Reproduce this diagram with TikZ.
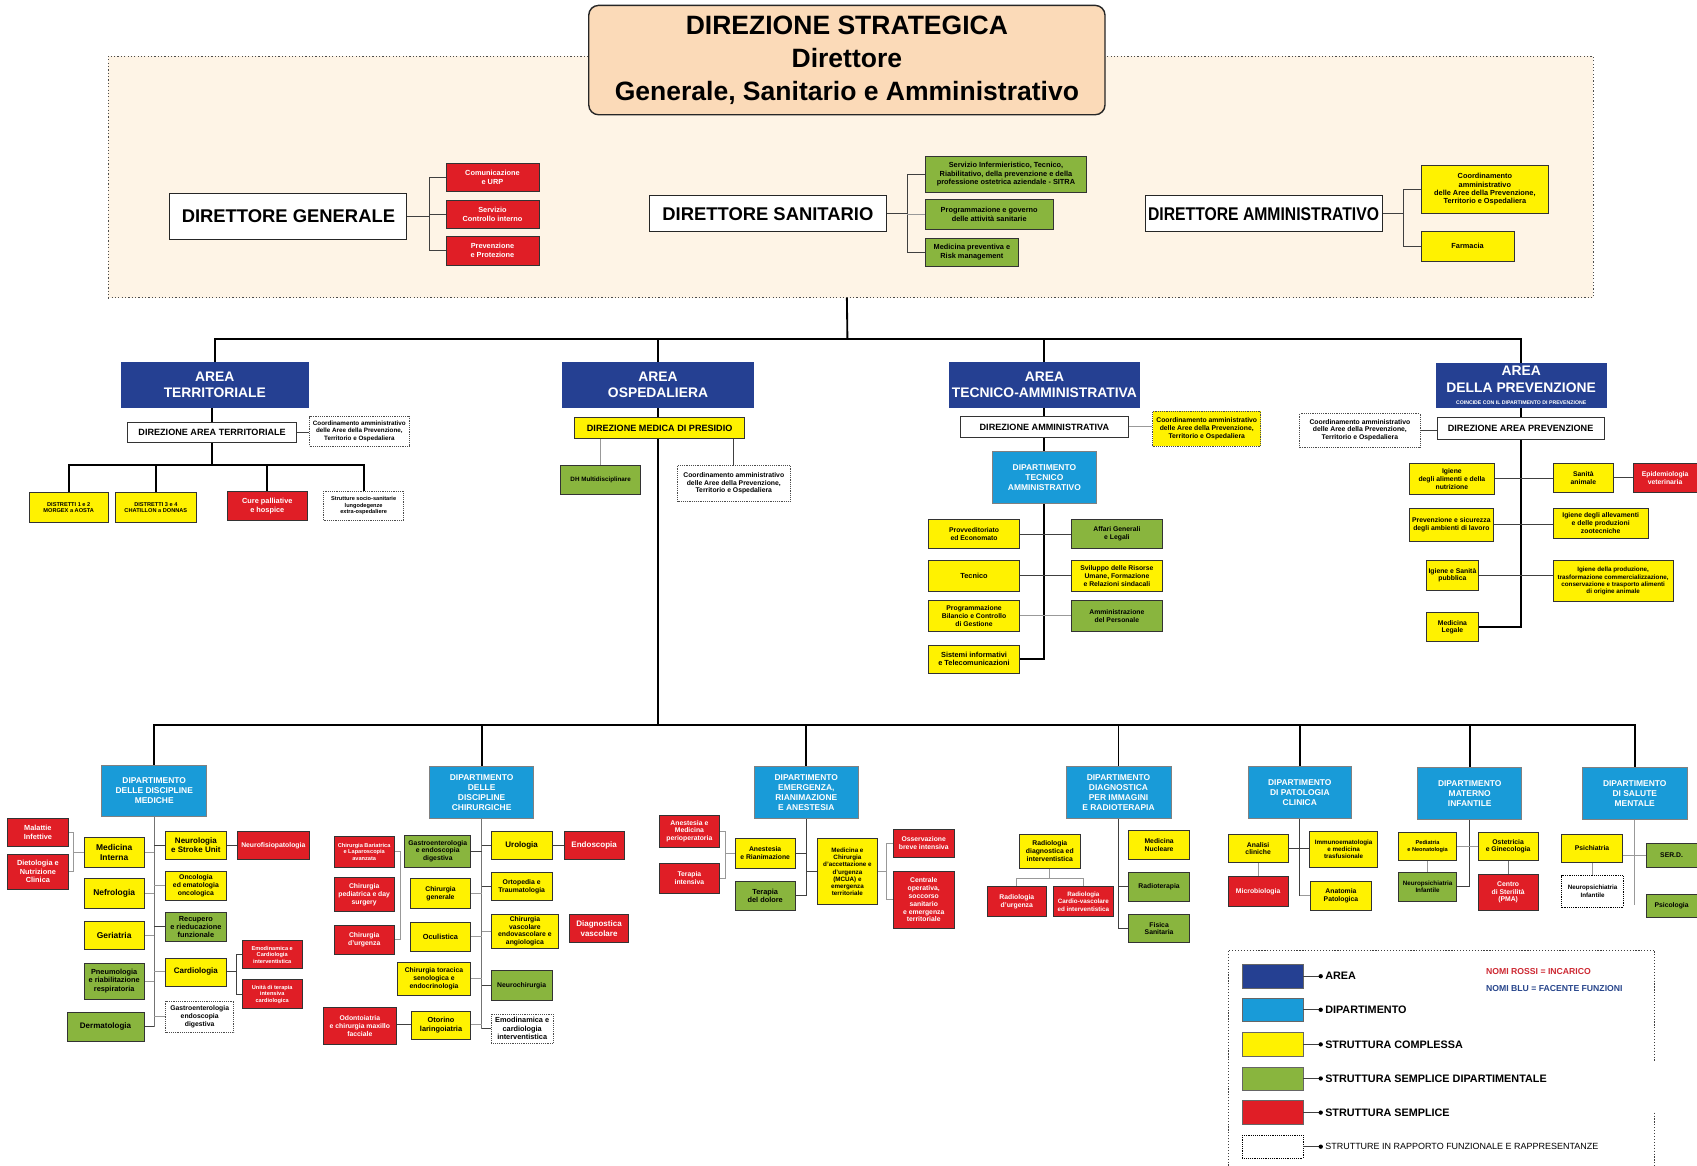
\documentclass[tikz,border=0pt]{standalone}
\usepackage{fontspec}
\usepackage{graphicx}
\setmainfont{Liberation Sans}
\usetikzlibrary{calc}
\definecolor{areab}{RGB}{37,64,146}
\definecolor{depb}{RGB}{25,155,216}
\definecolor{yel}{RGB}{255,242,0}
\definecolor{grn}{RGB}{137,181,62}
\definecolor{rd}{RGB}{224,30,38}
\definecolor{peach}{RGB}{251,218,184}
\definecolor{zonec}{RGB}{254,244,230}
\definecolor{lgred}{RGB}{205,40,50}
\definecolor{lgblue}{RGB}{40,70,140}
\pgfdeclarelayer{bg}\pgfdeclarelayer{lines}\pgfsetlayers{bg,lines,main}
\newcommand\B[7]{\node[#1, minimum width={(#5)-(#3)}, minimum height={(#6)-(#4)}] (#2) at ({((#3)+(#5))/2},{((#4)+(#6))/2}) {#7};}
\tikzset{
 bx/.style={draw=black!80, line width=0.6pt, inner sep=0.5pt, align=center},
 yb/.style={bx, fill=yel},
 gb/.style={bx, fill=grn},
 rb/.style={bx, fill=rd, text=white},
 wb/.style={bx, fill=white},
 dbx/.style={bx, fill=white, draw=black!70, line width=0.7pt, densely dotted},
 ydb/.style={bx, fill=yel, draw=black!70, line width=0.7pt, densely dotted},
 ab/.style={bx, fill=areab, draw=areab, text=white},
 pb/.style={bx, fill=depb, draw=black!50, text=white},
 sw/.style={draw=black!60, line width=0.6pt},
 dir/.style={bx, fill=white, draw=black!85, line width=1pt, font=\fontsize{17}{20}\selectfont\bfseries},
 stg/.style={fill=peach, draw=black!85, line width=1.3pt, rounded corners=9pt, align=center, font=\fontsize{24.5}{30.5}\selectfont\bfseries},
 zone/.style={fill=zonec, draw=black!70, line width=1.1pt, dash pattern=on 1.1pt off 2pt},
 fsA/.style={font=\fontsize{5.2}{6}\selectfont\bfseries},
 fsB/.style={font=\fontsize{5.8}{6.7}\selectfont\bfseries},
 fsC/.style={font=\fontsize{6.3}{7.2}\selectfont\bfseries},
 fsD/.style={font=\fontsize{6.8}{7.8}\selectfont\bfseries},
 fsE/.style={font=\fontsize{7.4}{8.5}\selectfont\bfseries},
 fsF/.style={font=\fontsize{7.8}{8.9}\selectfont\bfseries},
 fsDep/.style={font=\fontsize{7.8}{9.3}\selectfont\bfseries},
 fsDir/.style={font=\fontsize{8.4}{10}\selectfont\bfseries},
 fsArea/.style={font=\fontsize{12.8}{15.5}\selectfont\bfseries},
 tr/.style={line width=1.7pt, black},
 sb/.style={line width=0.9pt, black!75},
 lg/.style={line width=0.9pt, black!40},
 md/.style={line width=1.2pt, black!55},
 legf/.style={line width=1.1pt, black!75, dash pattern=on 1.1pt off 1.6pt},
 lgt/.style={anchor=west, inner sep=0pt, xshift=4pt, font=\fontsize{10}{12}\selectfont\bfseries},
}
\begin{document}
\begin{tikzpicture}[x=1pt,y=-1pt]
\useasboundingbox (0,0) rectangle (1568,1077);
\begin{pgfonlayer}{bg}
\fill[white] (0,0) rectangle (1568,1077);
\B{zone}{zn}{100}{52}{1472}{275}{}
\end{pgfonlayer}

% ---------- top ----------
\B{stg}{dsg}{544}{5}{1021}{106}{DIREZIONE STRATEGICA\\Direttore\\Generale, Sanitario e Amministrativo}
\B{dir}{dg}{157}{179}{376}{221}{DIRETTORE GENERALE}
\B{dir}{dsn}{600}{181}{819}{214}{DIRETTORE SANITARIO}
\B{dir}{dam0}{1058}{181}{1277}{214}{\scalebox{0.855}[1]{DIRETTORE AMMINISTRATIVO}}
\B{rb,fsD}{cu}{412}{151}{498}{177}{Comunicazione\\e URP}
\B{rb,fsD}{sci}{412}{185}{498}{211}{Servizio\\Controllo interno}
\B{rb,fsD}{pp}{412}{218}{498}{245}{Prevenzione\\e Protezione}
\B{gb,fsD}{sitra}{855}{144}{1004}{178}{Servizio Infermieristico, Tecnico,\\Riabilitativo, della prevenzione e della\\professione ostetrica aziendale - SITRA}
\B{gb,fsD}{pga}{855}{184}{973}{212}{Programmazione e governo\\delle attività sanitarie}
\B{gb,fsD}{mpr}{855}{220}{941}{246}{Medicina preventiva e\\Risk management}
\B{yb,fsD}{cda}{1313}{153}{1431}{197}{Coordinamento\\amministrativo\\delle Aree della Prevenzione,\\Territorio e Ospedaliera}
\B{yb,fsD}{far}{1313}{214}{1399}{241}{Farmacia}

% ---------- areas ----------
\B{ab,fsArea}{at}{112}{335}{285}{376}{AREA\\TERRITORIALE}
\B{ab,fsArea}{ao}{520}{335}{696}{376}{AREA\\OSPEDALIERA}
\B{ab,fsArea}{ata}{877}{335}{1053}{376}{AREA\\TECNICO-AMMINISTRATIVA}
\B{ab,fsArea}{ap}{1327}{336}{1484}{376}{AREA\\DELLA PREVENZIONE\\[-4pt]{\fontsize{4.8}{5.5}\selectfont COINCIDE CON IL DIPARTIMENTO DI PREVENZIONE}}

% territoriale
\B{wb,fsDir}{dat}{118}{390}{274}{409}{DIREZIONE AREA TERRITORIALE}
\B{dbx,fsB}{cot}{286}{385}{378}{412}{Coordinamento amministrativo\\delle Aree della Prevenzione,\\Territorio e Ospedaliera}
\B{yb,fsA}{d1}{27}{455}{100}{483}{DISTRETTI 1 e 2\\MORGEX a AOSTA}
\B{yb,fsA}{d2}{107}{455}{181}{483}{DISTRETTI 3 e 4\\CHATILLON a DONNAS}
\B{rb,fsD}{cpa}{210}{454}{284}{481}{Cure palliative\\e hospice}
\B{dbx,fsA}{sso}{299}{454}{373}{481}{Strutture socio-sanitarie\\lungodegenze\\extra-ospedaliere}

% ospedaliera
\B{yb,fsDir}{dmp}{531}{386}{688}{405}{DIREZIONE MEDICA DI PRESIDIO}
\B{gb,fsB}{dh}{518}{430}{592}{457}{DH Multidisciplinare}
\B{dbx,fsC}{coo}{626}{430}{730}{463}{Coordinamento amministrativo\\delle Aree della Prevenzione,\\Territorio e Ospedaliera}

% tecnico-amministrativa
\B{wb,fsDir}{dam}{887}{385}{1043}{404}{DIREZIONE AMMINISTRATIVA}
\B{ydb,fsC}{cta}{1065}{380}{1165}{412}{Coordinamento amministrativo\\delle Aree della Prevenzione,\\Territorio e Ospedaliera}
\B{pb,fsDep}{dta}{917}{417}{1013}{465}{DIPARTIMENTO\\TECNICO\\AMMINISTRATIVO}
\B{yb,fsC}{pec}{858}{480}{942}{507}{Provveditoriato\\ed Economato}
\B{gb,fsC}{agl}{990}{480}{1074}{507}{Affari Generali\\e Legali}
\B{yb,fsD}{tec}{858}{518}{942}{546}{Tecnico}
\B{yb,fsC}{svr}{990}{518}{1074}{546}{Sviluppo delle Risorse\\Umane, Formazione\\e Relazioni sindacali}
\B{yb,fsC}{pbc}{858}{555}{942}{583}{Programmazione\\Bilancio e Controllo\\di Gestione}
\B{gb,fsC}{adp}{990}{555}{1074}{583}{Amministrazione\\del Personale}
\B{yb,fsD}{sit}{858}{596}{942}{622}{Sistemi informativi\\e Telecomunicazioni}

% prevenzione
\B{wb,fsDir}{dap}{1328}{386}{1482}{406}{DIREZIONE AREA PREVENZIONE}
\B{dbx,fsC}{cop}{1201}{382}{1312}{413}{Coordinamento amministrativo\\delle Aree della Prevenzione,\\Territorio e Ospedaliera}
\B{yb,fsC}{iga}{1302}{428}{1381}{457}{Igiene\\degli alimenti e della\\nutrizione}
\B{yb,fsC}{san}{1435}{428}{1491}{455}{Sanità\\animale}
\B{rb,fsC}{epv}{1509}{428}{1568}{455}{Epidemiologia\\veterinaria}
\B{yb,fsC}{psa}{1302}{470}{1380}{500}{Prevenzione e sicurezza\\degli ambienti di lavoro}
\B{yb,fsC}{iall}{1435}{470}{1523}{497}{Igiene degli allevamenti\\e delle produzioni\\zootecniche}
\B{yb,fsC}{isp}{1318}{518}{1366}{545}{Igiene e Sanità\\pubblica}
\B{yb,fsB}{ipr}{1435}{518}{1546}{556}{Igiene della produzione,\\trasformazione commercializzazione,\\conservazione e trasporto alimenti\\di origine animale}
\B{yb,fsC}{mle}{1318}{566}{1366}{593}{Medicina\\Legale}

% ---------- departments ----------
\B{pb,fsDep}{dmed}{94}{707}{191}{754}{DIPARTIMENTO\\DELLE DISCIPLINE\\MEDICHE}
\B{pb,fsDep}{dch}{397}{708}{493}{756}{DIPARTIMENTO\\DELLE\\DISCIPLINE\\CHIRURGICHE}
\B{pb,fsDep}{dem}{697}{708}{793}{756}{DIPARTIMENTO\\EMERGENZA,\\RIANIMAZIONE\\E ANESTESIA}
\B{pb,fsDep}{ddi}{985}{708}{1082}{756}{DIPARTIMENTO\\DIAGNOSTICA\\PER IMMAGINI\\E RADIOTERAPIA}
\B{pb,fsDep}{dpa}{1153}{708}{1249}{756}{DIPARTIMENTO\\DI PATOLOGIA\\CLINICA}
\B{pb,fsDep}{dmi}{1310}{709}{1406}{757}{DIPARTIMENTO\\MATERNO\\INFANTILE}
\B{pb,fsDep}{dsm}{1462}{709}{1559}{757}{DIPARTIMENTO\\DI SALUTE\\MENTALE}

% mediche
\B{rb,fsD}{mal}{7}{756}{63}{782}{Malattie\\Infettive}
\B{rb,fsD}{die}{7}{789}{63}{822}{Dietologia e\\Nutrizione\\Clinica}
\B{yb,fsF}{mi}{78}{774}{133}{801}{Medicina\\Interna}
\B{yb,fsE}{neu}{153}{768}{209}{794}{Neurologia\\e Stroke Unit}
\B{rb,fsC}{nfp}{219}{768}{286}{794}{Neurofisiopatologia}
\B{yb,fsF}{nef}{78}{812}{133}{839}{Nefrologia}
\B{yb,fsC}{onc}{153}{805}{209}{832}{Oncologia\\ed ematologia\\oncologica}
\B{yb,fsF}{ger}{78}{851}{133}{877}{Geriatria}
\B{gb,fsD}{rec}{153}{843}{209}{870}{Recupero\\e rieducazione\\funzionale}
\B{yb,fsE}{car}{153}{885}{209}{911}{Cardiologia}
\B{rb,fsA}{emo}{224}{869}{279}{895}{Emodinamica e\\Cardiologia\\interventistica}
\B{rb,fsA}{uti}{224}{905}{279}{932}{Unità di terapia\\intensiva\\cardiologica}
\B{gb,fsD}{pne}{78}{890}{133}{923}{Pneumologia\\e riabilitazione\\respiratoria}
\B{dbx,fsC}{gsd}{153}{925}{216}{954}{Gastroenterologia\\endoscopia\\digestiva}
\B{gb,fsE}{der}{62}{935}{133}{962}{Dermatologia}

% chirurgiche
\B{yb,fsE}{uro}{454}{768}{510}{794}{Urologia}
\B{rb,fsE}{endo}{521}{768}{577}{794}{Endoscopia}
\B{gb,fsC}{gae}{374}{772}{435}{801}{Gastroenterologia\\e endoscopia\\digestiva}
\B{rb,fsA}{cba}{309}{773}{364}{801}{Chirurgia Bariatrica\\e Laparoscopia\\avanzata}
\B{rb,fsC}{cpd}{309}{811}{364}{842}{Chirurgia\\pediatrica e day\\surgery}
\B{rb,fsC}{cdu}{309}{855}{364}{882}{Chirurgia\\d'urgenza}
\B{yb,fsC}{cgn}{379}{812}{435}{839}{Chirurgia\\generale}
\B{yb,fsD}{ocu}{379}{852}{435}{879}{Oculistica}
\B{yb,fsC}{ort}{454}{806}{510}{832}{Ortopedia e\\Traumatologia}
\B{yb,fsC}{cva}{454}{845}{516}{876}{Chirurgia\\vascolare\\endovascolare e\\angiologica}
\B{rb,fsE}{dva}{526}{845}{581}{871}{Diagnostica\\vascolare}
\B{yb,fsC}{cto}{367}{889}{435}{920}{Chirurgia toracica\\senologica e\\endocrinologia}
\B{gb,fsC}{nch}{454}{897}{510}{924}{Neurochirurgia}
\B{yb,fsD}{oto}{380}{934}{435}{960}{Otorino\\laringoiatria}
\B{rb,fsC}{odo}{299}{931}{366}{965}{Odontoiatria\\e chirurgia maxillo\\facciale}
\B{dbx,fsD}{emc}{454}{937}{511}{964}{Emodinamica e\\cardiologia\\interventistica}

% emergenza
\B{rb,fsC}{amp}{609}{753}{665}{783}{Anestesia e\\Medicina\\perioperatoria}
\B{rb,fsC}{tin}{609}{798}{665}{825}{Terapia\\intensiva}
\B{yb,fsC}{ane}{679}{775}{735}{802}{Anestesia\\e Rianimazione}
\B{gb,fsD}{tdo}{679}{814}{735}{841}{Terapia\\del dolore}
\B{yb,fsB}{mcu}{755}{775}{811}{836}{Medicina e\\Chirurgia\\d'accettazione e\\d'urgenza\\(MCUA) e\\emergenza\\territoriale}
\B{rb,fsC}{obi}{825}{766}{882}{792}{Osservazione\\breve intensiva}
\B{rb,fsC}{cos}{825}{805}{882}{858}{Centrale\\operativa,\\soccorso\\sanitario\\e emergenza\\territoriale}

% diagnostica
\B{yb,fsC}{rdi}{942}{771}{998}{802}{Radiologia\\diagnostica ed\\interventistica}
\B{rb,fsC}{rur}{912}{819}{967}{847}{Radiologia\\d'urgenza}
\B{rb,fsB}{rcv}{973}{819}{1029}{847}{Radiologia\\Cardio-vascolare\\ed interventistica}
\B{yb,fsC}{mnu}{1043}{767}{1099}{794}{Medicina\\Nucleare}
\B{gb,fsC}{rte}{1043}{806}{1099}{833}{Radioterapia}
\B{gb,fsC}{fsa}{1043}{845}{1099}{871}{Fisica\\Sanitaria}

% patologia
\B{yb,fsC}{acl}{1135}{771}{1190}{797}{Analisi\\cliniche}
\B{yb,fsB}{imm}{1210}{768}{1273}{801}{Immunoematologia\\e medicina\\trasfusionale}
\B{rb,fsC}{mic}{1135}{810}{1190}{837}{Microbiologia}
\B{yb,fsC}{anp}{1211}{814}{1267}{841}{Anatomia\\Patologica}

% materno
\B{yb,fsA}{ped}{1292}{769}{1346}{795}{Pediatria\\e Neonatologia}
\B{yb,fsC}{ost}{1366}{769}{1421}{795}{Ostetricia\\e Ginecologia}
\B{gb,fsB}{npi}{1292}{806}{1346}{833}{Neuropsichiatria\\Infantile}
\B{rb,fsC}{pma}{1366}{808}{1421}{841}{Centro\\di Sterilità\\(PMA)}

% salute mentale
\B{yb,fsC}{psi}{1443}{771}{1499}{797}{Psichiatria}
\B{gb,fsC}{serd}{1521}{779}{1568}{801}{SER.D.}
\B{dbx,fsB,draw=black}{np2}{1443}{809}{1500}{838}{Neuropsichiatria\\Infantile}
\B{gb,fsC}{psc}{1521}{826}{1568}{848}{Psicologia}

% ---------- legend ----------
\B{sw,fill=areab}{l1}{1148}{891}{1204}{913}{}
\B{sw,fill=depb}{l2}{1148}{922}{1204}{944}{}
\B{sw,fill=yel}{l3}{1148}{954}{1204}{976}{}
\B{sw,fill=grn}{l4}{1148}{986}{1204}{1007}{}
\B{sw,fill=rd}{l5}{1148}{1017}{1204}{1039}{}
\B{dbx,draw=black}{l6}{1148}{1049}{1204}{1070}{}
\foreach \i/\t in {1/AREA,2/DIPARTIMENTO,3/STRUTTURA COMPLESSA,4/STRUTTURA SEMPLICE DIPARTIMENTALE,5/STRUTTURA SEMPLICE}{
  \draw[sb] (l\i.east) -- ++(16,0) coordinate (e\i);
  \fill (e\i) circle (2);
  \node[lgt] (t\i) at (e\i) {\t};
}
\draw[sb] (l6.east) -- ++(16,0) coordinate (e6);
\fill (e6) circle (2);
\node[lgt, font=\fontsize{8.3}{10}\selectfont] (t6) at (e6) {STRUTTURE IN RAPPORTO FUNZIONALE E RAPPRESENTANZE};
\node[anchor=west, inner sep=0pt, text=lgred, font=\fontsize{8}{9}\selectfont\bfseries] (nr) at (1373,898) {NOMI ROSSI = INCARICO};
\node[anchor=west, inner sep=0pt, text=lgblue, font=\fontsize{8}{9}\selectfont\bfseries] (nbl) at (1373,913) {NOMI BLU = FACENTE FUNZIONI};
\draw[legf] (1135,1077) -- (1135,878) -- (1529,878) -- (1529,981);
\draw[legf] (1529,1028) -- (1529,1077);

% ---------- connectors ----------
\begin{pgfonlayer}{lines}
% top
\draw[sb] (dg.east) -- ++(20,0) coordinate (dgb);
\draw[sb] (cu.west) -| (dgb) |- (pp.west);
\draw[sb] (sci.west) -- (sci.west -| dgb);
\draw[sb] (dsn.east) -- ++(19,0) coordinate (dsb);
\draw[sb] (sitra.west) -| (dsb) |- (mpr.west);
\draw[lg] (pga.west) -- (pga.west -| dsb);
\draw[sb] (dam0.east) -- ++(19,0) coordinate (dab);
\draw[sb] (cda.west) -| (dab) |- (far.west);
% trunk
\coordinate (bus) at (783,313);
\draw[tr] (dsg.south |- zn.south) -- (bus);
\draw[tr] (at.north) |- (bus) -| (ap.north);
\draw[tr] (ao.north) -- (ao.north |- bus);
\draw[tr] (ata.north) -- (ata.north |- bus);
% territoriale
\coordinate (tb) at (196,430);
\draw[tr] (dat.north) -- (dat.north |- at.south);
\draw[tr] (dat.south) -- (tb);
\draw[tr] (d1.north) |- (tb) -| (sso.north);
\draw[tr] (d2.north) -- (d2.north |- tb);
\draw[tr] (cpa.north) -- (cpa.north |- tb);
\draw[sb] (dat.east) -- (dat.east -| cot.west);
% ospedaliera
\coordinate (bb) at (608,670);
\draw[tr] (ao.south) -- (ao.south |- dmp.north);
\draw[tr] (ao.south |- dmp.south) -- (bb);
\draw[lg] (dh.north) -- (dh.north |- dmp.south);
\draw[sb] (coo.north) -- (coo.north |- dmp.south);
% tecnico
\draw[tr] (ata.south) -- (ata.south |- dam.north);
\draw[tr] (ata.south |- dam.south) -- (ata.south |- dta.north);
\draw[tr] (ata.south |- dta.south) |- (sit.east);
\draw[sb] (pec.east) -- (agl.west);
\draw[sb] (tec.east) -- (svr.west);
\draw[lg] (pbc.east) -- (adp.west);
\draw[lg] (dam.east) -- (dam.east -| cta.west);
% prevenzione
\draw[tr] (ap.south) -- (ap.south |- dap.north);
\draw[tr] (ap.south |- dap.south) |- (mle.east);
\draw[sb] (iga.east) -- (iga.east -| san.west);
\draw[sb] (san.east) -- (epv.west);
\draw[sb] (psa.east) -- (psa.east -| iall.west);
\draw[sb] (isp.east) -- (isp.east -| ipr.west);
\draw[sb] (cop.east) -- (cop.east -| dap.west);
% bottom bus
\draw[tr] (dmed.north) |- (bb) -| (dsm.north);
\foreach \d in {dch,dem,ddi,dpa,dmi}{\draw[tr] (\d.north) -- (\d.north |- bb);}
% mediche
\draw[md] (dmed.south) -- (dmed.south |- der.east);
\foreach \n in {mi,nef,ger,pne}{\draw[lg] (\n.east) -- (\n.east -| dmed.south);}
\draw[sb] (der.east) -- (der.east -| dmed.south);
\draw[sb] (neu.west) -- (neu.west -| dmed.south);
\draw[sb] (rec.west) -- (rec.west -| dmed.south);
\foreach \n in {onc,car,gsd}{\draw[lg] (\n.west) -- (\n.west -| dmed.south);}
\draw[sb] (neu.east) -- (nfp.west);
\draw[lg] (mi.west) -- ++(-10,0) coordinate (mib);
\draw[lg] (mal.east) -| (mib) |- (die.east);
\draw[sb] (car.east) -- ++(9,0) coordinate (cab);
\draw[sb] (emo.west) -| (cab) |- (uti.west);
% chirurgiche
\draw[md] (dch.south) -- (dch.south |- emc.west);
\foreach \n in {gae,cgn,ocu,cto,oto}{\draw[lg] (\n.east) -- (\n.east -| dch.south);}
\draw[sb] (gae.east) -- (gae.east -| dch.south);
\foreach \n in {uro,ort,nch,emc}{\draw[sb] (\n.west) -- (\n.west -| dch.south);}
\draw[lg] (cva.west) -- (cva.west -| dch.south);
\draw[sb] (uro.east) -- (endo.west);
\draw[sb] (oto.west) -- (oto.west -| odo.east);
\coordinate (cbx) at (370,0);
\draw[lg] (cba.east) -| (cbx |- cdu.east) -- (cdu.east);
% emergenza
\draw[sb] (dem.south) |- (tdo.east);
\draw[sb] (ane.east) -- (ane.east -| dem.south);
\draw[sb] (mcu.west) -- (mcu.west -| dem.south);
\draw[lg] (ane.west) -- ++(-8,0) coordinate (anb);
\draw[lg] (amp.east) -| (anb) |- (tin.east);
\draw[lg] (mcu.east) -- ++(8,0) coordinate (mcb);
\draw[lg] (obi.west) -| (mcb) |- (cos.west);
% diagnostica
\draw[sb] (ddi.south) |- (fsa.west);
\draw[sb] (rte.west) -- (rte.west -| ddi.south);
\draw[lg] (rdi.south) -- ++(0,9) coordinate (rdb);
\draw[lg] (rur.north) |- (rdb) -| (rcv.north);
% patologia
\draw[sb] (dpa.south) -- (dpa.south |- anp.west);
\draw[lg] (anp.west) -- (anp.west -| dpa.south);
\draw[sb] (acl.east) -- (acl.east -| imm.west);
\draw[lg] (acl.south) -- (mic.north);
% materno
\draw[sb] (dmi.south) |- (npi.east);
\draw[lg] (ped.east) -- (ost.west);
\draw[lg] (ped.south) -- (npi.north);
\draw[md] (ost.south) -- (pma.north);
% salute mentale
\draw[lg] (dsm.south) -- ++(0,79) coordinate (dse);
\draw[lg] (serd.west) -- (serd.west -| psi.east);
\draw[lg] (psi.south) -- (psi.south |- np2.north);
\end{pgfonlayer}
\end{tikzpicture}
\end{document}
